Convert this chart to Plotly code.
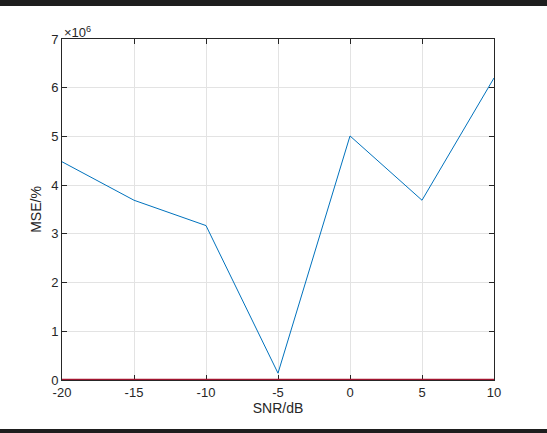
import plotly.graph_objects as go

snr = [-20, -15, -10, -5, 0, 5, 10]
mse = [4.48e6, 3.69e6, 3.17e6, 0.14e6, 5.01e6, 3.69e6, 6.2e6]
mse2 = [0, 0, 0, 0, 0, 0, 0]
x_ticks = [-20, -15, -10, -5, 0, 5, 10]
y_ticks = [0, 1e6, 2e6, 3e6, 4e6, 5e6, 6e6, 7e6]
y_tick_labels = ["0", "1", "2", "3", "4", "5", "6", "7"]

FONT = "Liberation Sans, Arial"
fig = go.Figure()
fig.add_trace(go.Scatter(x=snr, y=mse2, mode="lines", cliponaxis=False,
                         line=dict(color="#A2142F", width=2.6), showlegend=False))
fig.add_trace(go.Scatter(x=snr, y=mse, mode="lines",
                         line=dict(color="#0072BD", width=1), showlegend=False))

axis_common = dict(showline=True, linecolor="#262626", linewidth=1, mirror="ticks",
                   ticks="inside", ticklen=5, tickcolor="#262626", layer="below traces",
                   showgrid=True, gridcolor="#e3e3e3", gridwidth=1, zeroline=False,
                   tickfont=dict(family=FONT, size=13, color="#262626"))

fig.update_xaxes(range=[-20, 10], tickvals=x_ticks, ticktext=[str(v) for v in x_ticks],
                 title=dict(text="SNR/dB", font=dict(family=FONT, size=14, color="#262626"), standoff=4),
                 **axis_common)
fig.update_yaxes(range=[0, 7e6], tickvals=y_ticks, ticktext=y_tick_labels,
                 title=dict(text="MSE/%", font=dict(family=FONT, size=14, color="#262626"), standoff=6),
                 **axis_common)

fig.add_annotation(xref="paper", yref="paper", x=0, y=1, xanchor="left", yanchor="bottom",
                   text="×10<sup>6</sup>", showarrow=False, yshift=-3,
                   font=dict(family=FONT, size=13, color="#262626"))

fig.add_shape(type="rect", xref="paper", yref="paper", x0=-0.2, x1=1.2,
              y0=1 + 33/341, y1=1 + 40/341, line=dict(width=0), fillcolor="#1e1e1e")
fig.add_shape(type="rect", xref="paper", yref="paper", x0=-0.2, x1=1.2,
              y0=-53/341, y1=-49/341, line=dict(width=0), fillcolor="#1e1e1e")

fig.update_layout(width=547, height=433, margin=dict(l=62, r=53, t=39, b=53),
                  paper_bgcolor="white", plot_bgcolor="white")

fig.write_html("out.html", config={"displayModeBar": False},
               post_script="document.body.style.margin='0';document.body.style.overflow='hidden';")
